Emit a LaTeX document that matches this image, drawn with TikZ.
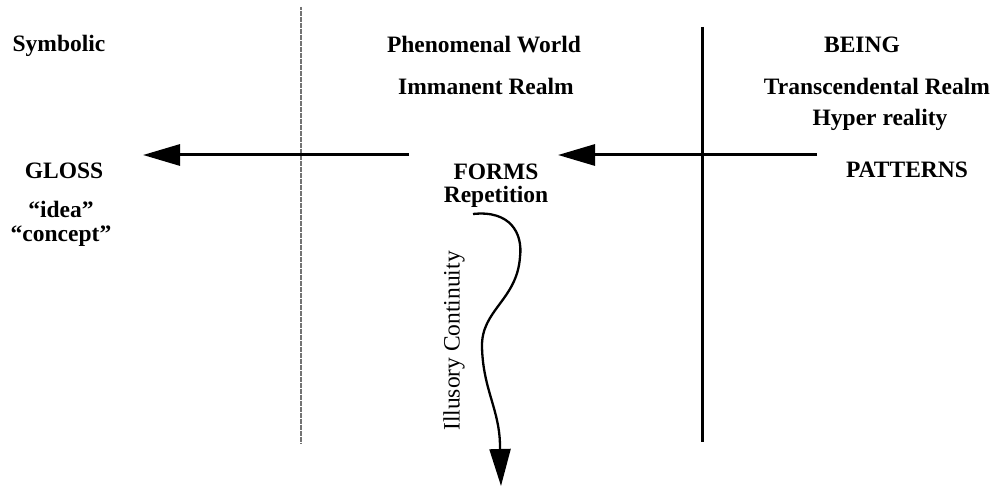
\documentclass[tikz,border=0pt]{standalone}
\usepackage{fontspec}
\setmainfont{Liberation Serif}
\usetikzlibrary{arrows.meta}
\begin{document}
\begin{tikzpicture}[x=1pt,y=-1pt,
  lbl/.style={font=\fontsize{23.5}{23.5}\selectfont\bfseries, inner sep=0pt, anchor=base},
  side/.style={font=\fontsize{23.5}{23.5}\selectfont, inner sep=0pt},
  bigarrow/.style={line width=3pt, -{Triangle[length=37pt,width=21pt]}},
  wavearrow/.style={line width=2.3pt, -{Triangle[length=37pt,width=21pt]}},
  divider/.style={line width=3pt},
  dotdivider/.style={draw=black!55, line width=2.6pt, dash pattern=on 0.7pt off 0.5pt}]
\useasboundingbox (0,0) rectangle (996,489);
\fill[white] (0,0) rectangle (996,489);

% dividers
\coordinate (d1t) at (301,7);
\coordinate (d1b) at (301,443);
\coordinate (d2t) at (702,27);
\coordinate (d2b) at (702,442);
\draw[dotdivider] (d1t) -- (d1b);
\draw[divider] (d2t) -- (d2b);

% texts
\node[lbl] (sym) at (59,52) {Symbolic};
\node[lbl] (phen) at (484,53) {Phenomenal World};
\node[lbl] (being) at (862,53) {BEING};
\node[lbl] (imm) at (486,95) {Immanent Realm};
\node[lbl] (trans) at (877,95) {Transcendental Realm};
\node[lbl] (hyper) at (880,126) {Hyper reality};
\node[lbl] (gloss) at (64,179) {GLOSS};
\node[lbl] (forms) at (496,180) {FORMS};
\node[lbl] (patt) at (907,178) {PATTERNS};
\node[lbl] (rep) at (496,203) {Repetition};
\node[lbl] (idea) at (61,217.5) {“idea”};
\node[lbl] (conc) at (61,241) {“concept”};
\node[side, rotate=90] (ill) at (454,341) {Illusory Continuity};

% arrows
\coordinate (a1s) at (409,155);
\coordinate (a1e) at (143,155);
\coordinate (a2s) at (817,155);
\coordinate (a2e) at (558,155);
\draw[bigarrow] (a1s) -- (a1e);
\draw[bigarrow] (a2s) -- (a2e);

% wavy arrow
\coordinate (ws) at (473,214);
\coordinate (we) at (501,486);
\draw[wavearrow] (ws) .. controls (510,210) and (523,233) .. (520,257)
  .. controls (517,300) and (481,310) .. (482,347)
  .. controls (483,390) and (500,410) .. (500,447) -- (we);
\end{tikzpicture}
\end{document}
